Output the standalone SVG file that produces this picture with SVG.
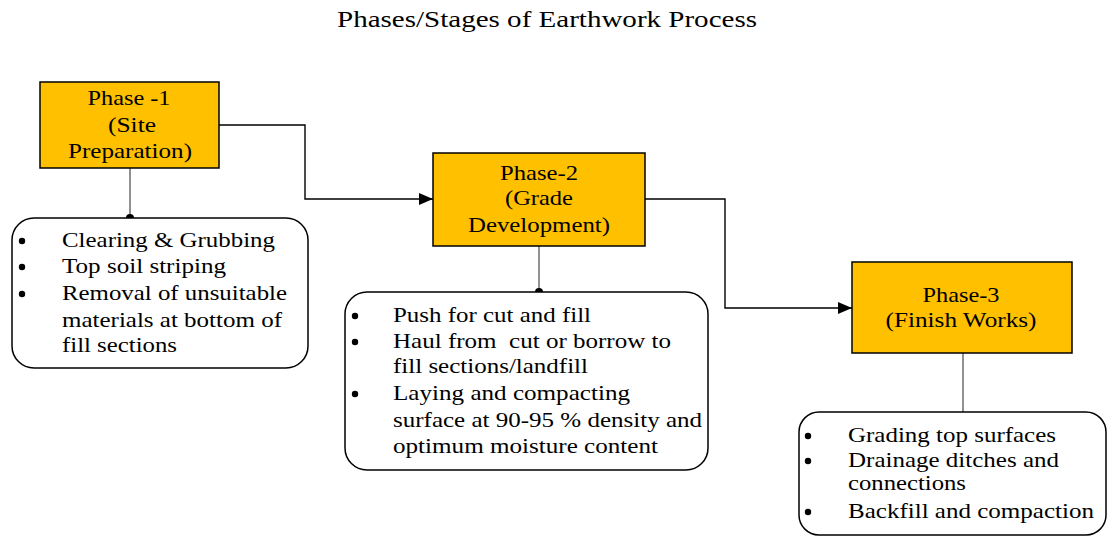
<svg xmlns="http://www.w3.org/2000/svg" width="1107" height="537" viewBox="0 0 1107 537" font-family="Liberation Serif, Times New Roman, Times, serif">
  <style>
    text { font-family: 'Liberation Serif', 'Times New Roman', Times, serif; fill: #000; }
    .title { font-size: 24px; }
    .lbl { font-size: 22px; text-anchor: middle; }
    .item { font-size: 22px; }
    .bullet { fill: #000; }
    .phase { fill: #FFC000; stroke: #000; stroke-width: 1.5; }
    .list { fill: #fff; stroke: #000; stroke-width: 1.5; }
    .link { fill: none; stroke: #000; stroke-width: 1.4; }
    .stem { fill: none; stroke: #222; stroke-width: 1; }
  </style>
  <defs>
    <marker id="arrow" viewBox="0 0 14 12" refX="14" refY="6" markerWidth="14" markerHeight="12" markerUnits="userSpaceOnUse" orient="auto">
      <path d="M0,0 L14,6 L0,12 Z" fill="#000"/>
    </marker>
  </defs>
  <rect width="1107" height="537" fill="#fff"/>

  <text class="title" x="337" y="27" textLength="420" lengthAdjust="spacingAndGlyphs">Phases/Stages of Earthwork Process</text>

  <!-- flow connectors between phases and stems to the task lists -->
  <g id="connectors">
    <polyline class="link" points="219,125 305,125 305,199 433,199" marker-end="url(#arrow)"/>
    <polyline class="link" points="645,199 725,199 725,308 852,308" marker-end="url(#arrow)"/>
    <line class="stem" x1="130" y1="168" x2="130" y2="218"/>
    <circle cx="130" cy="218" r="4" fill="#000"/>
    <line class="stem" x1="539" y1="246" x2="539" y2="292"/>
    <circle cx="539" cy="292" r="4" fill="#000"/>
    <line class="stem" x1="963" y1="353" x2="963" y2="420"/>
    <circle cx="963" cy="420" r="4" fill="#000"/>
  </g>

  <g id="phase1">
    <rect class="phase" x="40" y="82" width="179" height="86"/>
    <text class="lbl" x="129" y="105" textLength="83" lengthAdjust="spacingAndGlyphs">Phase -1</text>
    <text class="lbl" x="132" y="132" textLength="48" lengthAdjust="spacingAndGlyphs">(Site</text>
    <text class="lbl" x="130" y="158" textLength="124" lengthAdjust="spacingAndGlyphs">Preparation)</text>
  </g>

  <g id="tasks1">
    <rect class="list" x="12" y="218" width="296" height="150" rx="22"/>
    <circle class="bullet" cx="22" cy="241" r="3.2"/>
    <circle class="bullet" cx="22" cy="267" r="3.2"/>
    <circle class="bullet" cx="22" cy="294" r="3.2"/>
    <text class="item" x="62" y="247" textLength="213" lengthAdjust="spacingAndGlyphs">Clearing &amp; Grubbing</text>
    <text class="item" x="62" y="273" textLength="164" lengthAdjust="spacingAndGlyphs">Top soil striping</text>
    <text class="item" x="62" y="300" textLength="225" lengthAdjust="spacingAndGlyphs">Removal of unsuitable</text>
    <text class="item" x="62" y="327" textLength="220" lengthAdjust="spacingAndGlyphs">materials at bottom of</text>
    <text class="item" x="62" y="352" textLength="115" lengthAdjust="spacingAndGlyphs">fill sections</text>
  </g>

  <g id="phase2">
    <rect class="phase" x="433" y="153" width="212" height="93"/>
    <text class="lbl" x="539" y="180" textLength="78" lengthAdjust="spacingAndGlyphs">Phase-2</text>
    <text class="lbl" x="539" y="205" textLength="68" lengthAdjust="spacingAndGlyphs">(Grade</text>
    <text class="lbl" x="539" y="232" textLength="142" lengthAdjust="spacingAndGlyphs">Development)</text>
  </g>

  <g id="tasks2">
    <rect class="list" x="345" y="292" width="363" height="178" rx="22"/>
    <circle class="bullet" cx="355" cy="316" r="3.2"/>
    <circle class="bullet" cx="355" cy="342" r="3.2"/>
    <circle class="bullet" cx="355" cy="394" r="3.2"/>
    <text class="item" x="393" y="322" textLength="198" lengthAdjust="spacingAndGlyphs">Push for cut and fill</text>
    <text class="item" x="393" y="348" textLength="278" lengthAdjust="spacingAndGlyphs" xml:space="preserve">Haul from  cut or borrow to</text>
    <text class="item" x="393" y="373" textLength="195" lengthAdjust="spacingAndGlyphs">fill sections/landfill</text>
    <text class="item" x="393" y="400" textLength="237" lengthAdjust="spacingAndGlyphs">Laying and compacting</text>
    <text class="item" x="393" y="427" textLength="309" lengthAdjust="spacingAndGlyphs">surface at 90-95 % density and</text>
    <text class="item" x="393" y="453" textLength="265" lengthAdjust="spacingAndGlyphs">optimum moisture content</text>
  </g>

  <g id="phase3">
    <rect class="phase" x="852" y="262" width="220" height="91"/>
    <text class="lbl" x="961" y="302" textLength="77" lengthAdjust="spacingAndGlyphs">Phase-3</text>
    <text class="lbl" x="961" y="327" textLength="151" lengthAdjust="spacingAndGlyphs">(Finish Works)</text>
  </g>

  <g id="tasks3">
    <rect class="list" x="799" y="412" width="307" height="123" rx="20"/>
    <circle class="bullet" cx="808" cy="436" r="3.2"/>
    <circle class="bullet" cx="808" cy="461" r="3.2"/>
    <circle class="bullet" cx="808" cy="512" r="3.2"/>
    <text class="item" x="848" y="442" textLength="208" lengthAdjust="spacingAndGlyphs">Grading top surfaces</text>
    <text class="item" x="848" y="467" textLength="211" lengthAdjust="spacingAndGlyphs">Drainage ditches and</text>
    <text class="item" x="848" y="490" textLength="118" lengthAdjust="spacingAndGlyphs">connections</text>
    <text class="item" x="848" y="518" textLength="246" lengthAdjust="spacingAndGlyphs">Backfill and compaction</text>
  </g>
</svg>
